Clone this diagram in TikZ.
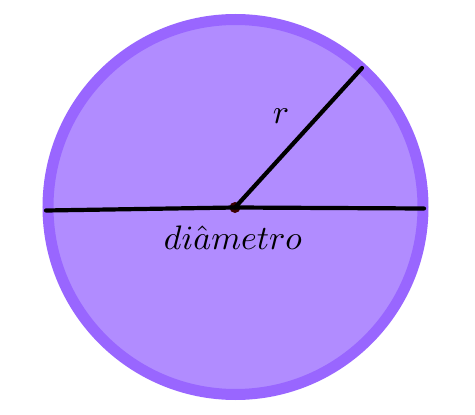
\documentclass[tikz,border=0pt]{standalone}
\usepackage{graphicx}
\definecolor{ringc}{RGB}{153,102,255}
\definecolor{fillc}{RGB}{177,140,255}
\definecolor{dotc}{RGB}{60,0,0}
\begin{document}
\begin{tikzpicture}[x=1pt,y=-1pt,
  ring/.style={draw=ringc,fill=fillc,line width=11pt},
  seg/.style={draw=black,line width=4.2pt,line cap=round}]
\useasboundingbox (0,0) rectangle (475,415);
\fill[white] (0,0) rectangle (475,415);
\path[ring] (235.5,207) circle[radius=187.5];
\coordinate (L) at (46,210.5);
\coordinate (R) at (424,208.5);
\coordinate (P) at (362,68);
\node[circle,fill=dotc,inner sep=0pt,minimum size=11pt] (O) at (235,207.5) {};
\draw[seg] (L) -- (O.center) -- (R);
\draw[seg] (O.center) -- (P);
\node (rl) at (281,116) {\scalebox{3.4}{$r$}};
\node (dl) at (233,238) {\scalebox{3.4}{$di\hat{a}metro$}};
\end{tikzpicture}
\end{document}
